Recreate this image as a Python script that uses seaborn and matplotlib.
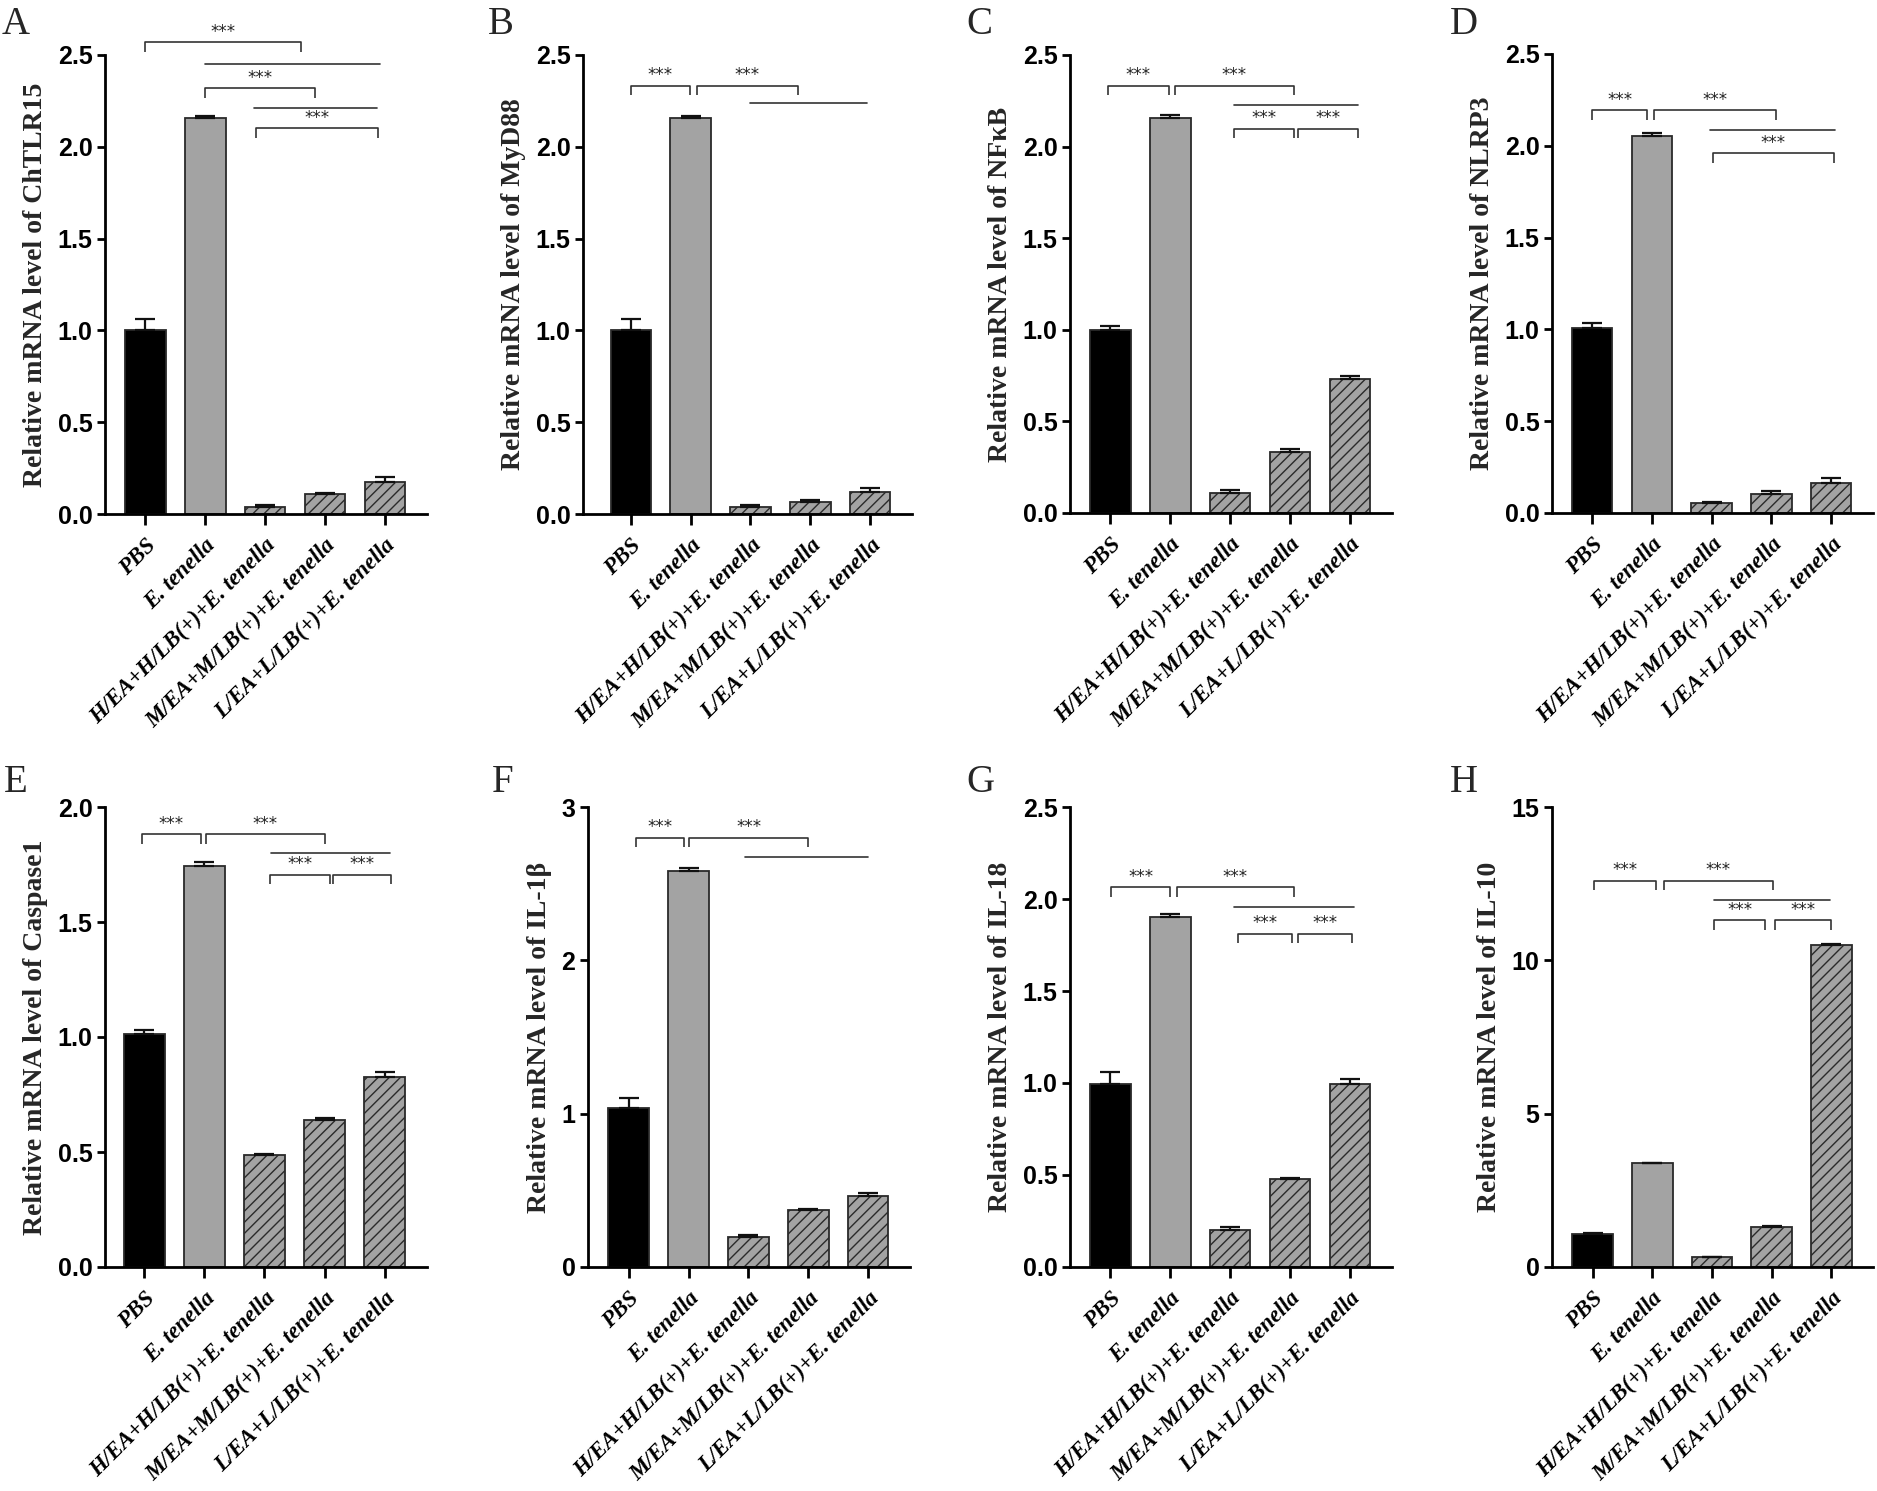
import numpy as np
import pandas as pd
import matplotlib
matplotlib.use("Agg")
import matplotlib.pyplot as plt
import seaborn as sns

# ---------------- data ----------------
groups = ["PBS", "E. tenella", "H/EA+H/LB(+)+E. tenella",
          "M/EA+M/LB(+)+E. tenella", "L/EA+L/LB(+)+E. tenella"]

genes = ["ChTLR15", "MyD88", "NF\u03baB", "NLRP3", "Caspase1", "IL-1\u03b2", "IL-18", "IL-10"]
letters = ["A", "B", "C", "D", "E", "F", "G", "H"]

tlr15_mean = [1.00, 2.155, 0.039, 0.107, 0.177]
tlr15_sem = [0.06, 0.015, 0.008, 0.005, 0.022]
myd88_mean = [1.00, 2.155, 0.039, 0.066, 0.119]
myd88_sem = [0.06, 0.015, 0.008, 0.010, 0.025]
nfkb_mean = [1.00, 2.155, 0.110, 0.333, 0.732]
nfkb_sem = [0.02, 0.015, 0.017, 0.019, 0.017]
nlrp3_mean = [1.01, 2.053, 0.053, 0.105, 0.163]
nlrp3_sem = [0.023, 0.015, 0.007, 0.015, 0.027]
casp1_mean = [1.013, 1.744, 0.485, 0.639, 0.828]
casp1_sem = [0.019, 0.017, 0.005, 0.009, 0.019]
il1b_mean = [1.037, 2.58, 0.193, 0.373, 0.464]
il1b_sem = [0.063, 0.02, 0.017, 0.007, 0.019]
il18_mean = [0.997, 1.90, 0.20, 0.48, 0.997]
il18_sem = [0.063, 0.017, 0.02, 0.004, 0.023]
il10_mean = [1.06, 3.38, 0.31, 1.31, 10.51]
il10_sem = [0.06, 0.02, 0.02, 0.02, 0.03]

means = [tlr15_mean, myd88_mean, nfkb_mean, nlrp3_mean,
         casp1_mean, il1b_mean, il18_mean, il10_mean]
sems = [tlr15_sem, myd88_sem, nfkb_sem, nlrp3_sem,
        casp1_sem, il1b_sem, il18_sem, il10_sem]

ticks_a = [0.0, 0.5, 1.0, 1.5, 2.0, 2.5]
ticks_e = [0.0, 0.5, 1.0, 1.5, 2.0]
ticks_f = [0, 1, 2, 3]
ticks_h = [0, 5, 10, 15]
yticks = [ticks_a, ticks_a, ticks_a, ticks_a, ticks_e, ticks_f, ticks_a, ticks_h]
yfmt = ["{:.1f}"] * 5 + ["{:.0f}", "{:.1f}", "{:.0f}"]

# significance annotations: (x1, x2, y, kind) kind: 'b' bracket with ***, 'l' plain line
sig_a = [(0, 2.6, 2.57, "b"), (1, 3.92, 2.45, "l"), (1, 2.84, 2.32, "b"),
         (1.82, 3.86, 2.21, "l"), (1.84, 3.89, 2.10, "b")]
sig_b = [(0, 0.99, 2.333, "b"), (1.10, 2.80, 2.333, "b"), (2.0, 3.94, 2.237, "l")]
sig_c = [(-0.04, 0.98, 2.333, "b"), (1.08, 3.06, 2.333, "b"), (2.06, 4.14, 2.228, "l"),
         (2.06, 3.06, 2.097, "b"), (3.14, 4.14, 2.097, "b")]
sig_d = [(0, 0.92, 2.195, "b"), (1.03, 3.08, 2.195, "b"), (1.97, 4.07, 2.086, "l"),
         (2.02, 4.04, 1.961, "b")]
sig_e = [(-0.03, 0.94, 1.883, "b"), (1.02, 3.0, 1.883, "b"), (2.11, 4.09, 1.80, "l"),
         (2.09, 3.09, 1.706, "b"), (3.13, 4.1, 1.706, "b")]
sig_f = [(0.12, 0.93, 2.80, "b"), (1.01, 3.0, 2.80, "b"), (1.94, 4.0, 2.674, "l")]
sig_g = [(0.02, 1.0, 2.065, "b"), (1.11, 3.06, 2.065, "b"), (2.06, 4.06, 1.954, "l"),
         (2.13, 3.03, 1.812, "b"), (3.14, 4.03, 1.812, "b")]
sig_h = [(0.02, 1.06, 12.6, "b"), (1.19, 3.03, 12.6, "b"), (2.03, 3.98, 11.96, "l"),
         (2.04, 2.89, 11.3, "b"), (3.05, 3.99, 11.3, "b")]
sigs = [sig_a, sig_b, sig_c, sig_d, sig_e, sig_f, sig_g, sig_h]

# ---------------- style ----------------
sns.set_style("ticks")
plt.rcParams["font.family"] = ["Liberation Sans", "DejaVu Sans"]
plt.rcParams["hatch.linewidth"] = 1.0
plt.rcParams["hatch.color"] = "#222222"

W, H = 1877, 1491
fig = plt.figure(figsize=(W / 100, H / 100), dpi=100)

# axes pixel boxes: (left, right, top, bottom)
boxes = [(105, 427, 55, 514), (583, 912, 55, 514), (1070, 1392, 55, 513), (1552, 1873, 54, 513),
         (105, 427, 807, 1267), (588, 910, 807, 1267), (1070, 1392, 807, 1267), (1552, 1873, 807, 1267)]
xleft = [-0.67, -0.8, -0.67, -0.67, -0.65, -0.68, -0.67, -0.68]
letter_pos = [(2, 6), (488, 6), (966, 6), (1450, 6), (4, 764), (492, 764), (966, 764), (1450, 764)]

bar_colors = ["#000000", "#a3a3a3", "#a3a3a3", "#a3a3a3", "#a3a3a3"]

for i in range(8):
    l, r, t, b = boxes[i]
    ax = fig.add_axes([l / W, 1 - b / H, (r - l) / W, (b - t) / H])
    df = pd.DataFrame({"group": groups, "value": means[i]})
    sns.barplot(data=df, x="group", y="value", hue="group", palette=bar_colors,
                legend=False, width=0.68, ax=ax, edgecolor="#2a2a2a", linewidth=1.3,
                errorbar=None, saturation=1)
    for j, p in enumerate(ax.patches[:5]):
        if j >= 2:
            p.set_hatch("///")
    err = np.array(sems[i])
    ax.errorbar(np.arange(5), means[i], yerr=[np.zeros(5), err], fmt="none",
                ecolor="#111111", elinewidth=1.6, capsize=7, capthick=1.6, zorder=1)
    ymax = yticks[i][-1]
    ax.set_ylim(0, ymax)
    ax.set_xlim(xleft[i], 4.7)
    ax.set_yticks(yticks[i])
    ax.set_yticklabels([yfmt[i].format(v) for v in yticks[i]],
                       fontsize=18, fontweight="bold", family="Liberation Sans")
    ax.set_xticks(range(5))
    ax.set_xticklabels(groups, rotation=45, ha="right", rotation_mode="anchor",
                       fontsize=16.5, fontweight="bold", fontstyle="italic",
                       family="Liberation Serif")
    ax.set_xlabel("")
    ax.set_ylabel("Relative mRNA level of " + genes[i], fontsize=20, fontweight="bold",
                  family="Liberation Serif", labelpad=7)
    sns.despine(ax=ax)
    for s in ["left", "bottom"]:
        ax.spines[s].set_linewidth(2.0)
        ax.spines[s].set_color("black")
    ax.tick_params(axis="y", length=6, width=2.0, pad=3, colors="black")
    ax.tick_params(axis="x", length=8, width=2.0, pad=7, colors="black")
    ax.spines["left"].set_bounds(0, ymax)

    drop = 0.021 * ymax
    for (x1, x2, y, kind) in sigs[i]:
        if kind == "b":
            ax.plot([x1, x1, x2, x2], [y - drop, y, y, y - drop], color="#333333",
                    lw=1.2, clip_on=False, solid_capstyle="butt")
            ax.annotate("***", xy=((x1 + x2) / 2, y), xytext=(0, 1),
                        textcoords="offset points", ha="center", va="bottom",
                        fontsize=12, color="#222222", family="DejaVu Sans",
                        annotation_clip=False)
        else:
            ax.plot([x1, x2], [y, y], color="#333333", lw=1.2, clip_on=False)

    lx, ly = letter_pos[i]
    fig.text(lx / W, 1 - ly / H, letters[i], fontsize=28, family="Liberation Serif",
             ha="left", va="top")

fig.savefig("out.png", dpi=100, facecolor="white")
